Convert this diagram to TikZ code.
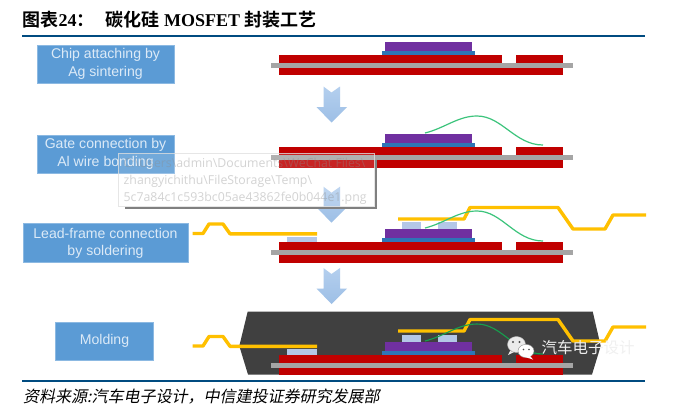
\documentclass[tikz,border=0pt]{standalone}
\usepackage{fontspec}
\setmainfont{Liberation Serif}
\setsansfont{Liberation Sans}
\newfontfamily\cjkbold[BoldFont={Noto Sans CJK SC Bold}]{Noto Sans CJK SC}
\newfontfamily\cjkslant[FakeSlant=0.2]{Noto Sans CJK SC}
\newfontfamily\cjkplain{Noto Sans CJK SC}
\newfontfamily\tipfont{Open Sans}
\definecolor{rulec}{HTML}{004B80}
\definecolor{boxc}{HTML}{5B9BD5}
\definecolor{boxt}{HTML}{DCEAF7}
\definecolor{redc}{HTML}{C00000}
\definecolor{grayc}{HTML}{A5A5A5}
\definecolor{purplec}{HTML}{7030A0}
\definecolor{bluec}{HTML}{2E75B6}
\definecolor{padc}{HTML}{B4C7E7}
\definecolor{leadc}{HTML}{FFC000}
\definecolor{wirec}{HTML}{3CC47C}
\definecolor{wiredark}{HTML}{16A04E}
\definecolor{moldc}{HTML}{404040}
\definecolor{arrowtop}{HTML}{B4CFEE}
\definecolor{arrowbot}{HTML}{9DBFE6}
\tikzset{
  x=1pt,y=-1pt,
  stepbox/.style={fill=boxc,draw=boxc!70!white,line width=.6pt,text=boxt,align=center,inner sep=0pt,
    font=\sffamily\fontsize{14.1}{17.5}\selectfont},
  rulebar/.style={fill=rulec},
  redlayer/.style={fill=redc},
  graylayer/.style={fill=grayc},
  chiptop/.style={fill=purplec},
  chipbase/.style={fill=bluec},
  padbox/.style={fill=padc},
  leadline/.style={draw=leadc,line width=3.4pt,line join=round},
  wireline/.style={draw=wirec,line width=1.2pt},
  flowarrow/.style={top color=arrowtop,bottom color=arrowbot,draw=none},
}
\newcommand{\boardlayers}[1]{%
  \begin{scope}[shift={(0,#1)}]
    \fill[redlayer] (279,0) rectangle (501.5,8);
    \fill[redlayer] (515.5,0) rectangle (562.7,8);
    \fill[graylayer] (270.5,8.2) rectangle (573,13.2);
    \fill[redlayer] (279,13.4) rectangle (562.7,20.8);
    \fill[chipbase] (381.5,-3.6) rectangle (475,0);
    \fill[chiptop] (385,-12.6) rectangle (471.5,-4);
  \end{scope}}
\newcommand{\flowarrowshape}[1]{%
  \begin{scope}[shift={(0,#1)}]
    \shade[flowarrow] (323.5,0) -- (331.5,6) -- (340,0) -- (340,20.5) -- (347,20.5)
      -- (331.5,36) -- (316.5,20.5) -- (323.5,20.5) -- cycle;
  \end{scope}}
\newcommand{\sidelead}[1]{%
  \begin{scope}[shift={(0,#1)}]
    \draw[leadline] (192.5,0) -- (203,0) -- (209,-9.5) -- (223,-9.5) -- (230,0.3) -- (317,0.3);
  \end{scope}}
\newcommand{\toplead}[1]{%
  \begin{scope}[shift={(0,#1)}]
    \draw[leadline] (398,0) -- (464,0) -- (470,-11.5) -- (558,-11.5) -- (573,10) -- (605,10) -- (613,-4) -- (646,-4);
  \end{scope}}
\newcommand{\bondwire}[3]{%
  \begin{scope}[shift={(0,#1)}]
    \draw[#2] (425,0) .. controls (445,-5) and (458,-17) .. (477,-17)
      .. controls (502,-17) and (515,#3) .. (543,#3);
  \end{scope}}
\begin{document}
\begin{tikzpicture}
\useasboundingbox (0,0) rectangle (700,416);
\fill[white] (0,0) rectangle (700,416);

% header
\node[anchor=west,inner sep=0pt,font=\bfseries\fontsize{18}{20}\selectfont] (title) at (22.5,20)
  {{\cjkbold 图表}24{\cjkbold ：}\hspace{11pt}{\cjkbold 碳化硅} MOSFET {\cjkbold 封装工艺}};
\fill[rulebar] (22,35) rectangle (645,37.4);

% step boxes
\node[stepbox,minimum width=137pt,minimum height=38pt] (s1) at (105.5,63.8) {Chip attaching by\\Ag sintering};
\node[stepbox,minimum width=137pt,minimum height=38pt] (s2) at (105.5,153.8) {Gate connection by\\Al wire bonding};
\node[stepbox,minimum width=165pt,minimum height=39pt] (s3) at (105.5,243.2) {Lead-frame connection\\by soldering};
\node[stepbox,minimum width=98pt,minimum height=38pt] (s4) at (104.5,341) {Molding};

% block arrows
\flowarrowshape{86.5}
\flowarrowshape{186.7}
\flowarrowshape{268}

% stage 1
\boardlayers{54.5}
% stage 2
\boardlayers{146.7}
\bondwire{133}{wireline}{12}
% stage 3
\boardlayers{241.7}
\fill[padbox] (402,221.5) rectangle (421,229);
\fill[padbox] (437.5,221.5) rectangle (457,229);
\fill[padbox] (287,236.5) rectangle (317,241.7);
\sidelead{233.5}
\toplead{219}
\bondwire{228}{wireline}{13}

% stage 4
\fill[moldc] (247.7,311.5) -- (592.7,311.5) -- (600.7,346) -- (592,374.5) -- (248,374.5) -- (239.3,346) -- cycle;
\boardlayers{354.5}
\fill[padbox] (402,334.5) rectangle (421,341.5);
\fill[padbox] (437.5,334.5) rectangle (457,341.5);
\fill[padbox] (287,349) rectangle (317,354.5);
\sidelead{346}
\toplead{331}
\bondwire{341}{draw=wiredark,line width=1.1pt}{13}

% file tooltip
\fill[black!50] (125,207) rectangle (376.8,208.8);
\fill[black!50] (375,160) rectangle (376.8,208.8);
\fill[white,fill opacity=.14,draw=black!12,draw opacity=.8,line width=.8pt] (118.5,153.5) rectangle (374.5,206.8);
\node[anchor=north west,inner sep=0pt,align=left,text=black!45,text opacity=.38,
  font=\tipfont\fontsize{12.3}{17}\selectfont] (tip) at (123.5,158)
  {C:\textbackslash Users\textbackslash admin\textbackslash Documents\textbackslash WeChat Files\textbackslash\\
   zhangyichithu\textbackslash FileStorage\textbackslash Temp\textbackslash\\
   5c7a84c1c593bc05ae43862fe0b044e1.png};

% watermark
\fill[black!8,draw=black!30,line width=.4pt] (516.5,344.5) ellipse (9 and 8);
\fill[black!8] (510,351) -- (508,355) -- (514,352) -- cycle;
\fill[white,draw=black!45,line width=.4pt] (526,351) ellipse (8 and 6.6);
\fill[white] (530,356) -- (533,359.5) -- (525,357) -- cycle;
\fill[black!70] (513,342) circle (1.1) (519.5,342) circle (1.1) (523.5,349.5) circle (.9) (529,349.5) circle (.9);
\node[anchor=west,inner sep=0pt,text=black!6,font=\cjkplain\fontsize{15.5}{18}\selectfont] (mark) at (541.5,348) {汽车电子设计};

% footer
\fill[rulebar] (22,379.8) rectangle (645,382);
\node[anchor=west,inner sep=0pt,font=\cjkslant\fontsize{16}{18}\selectfont] (source) at (23,397)
  {资料来源:汽车电子设计，中信建投证券研究发展部};
\end{tikzpicture}
\end{document}
